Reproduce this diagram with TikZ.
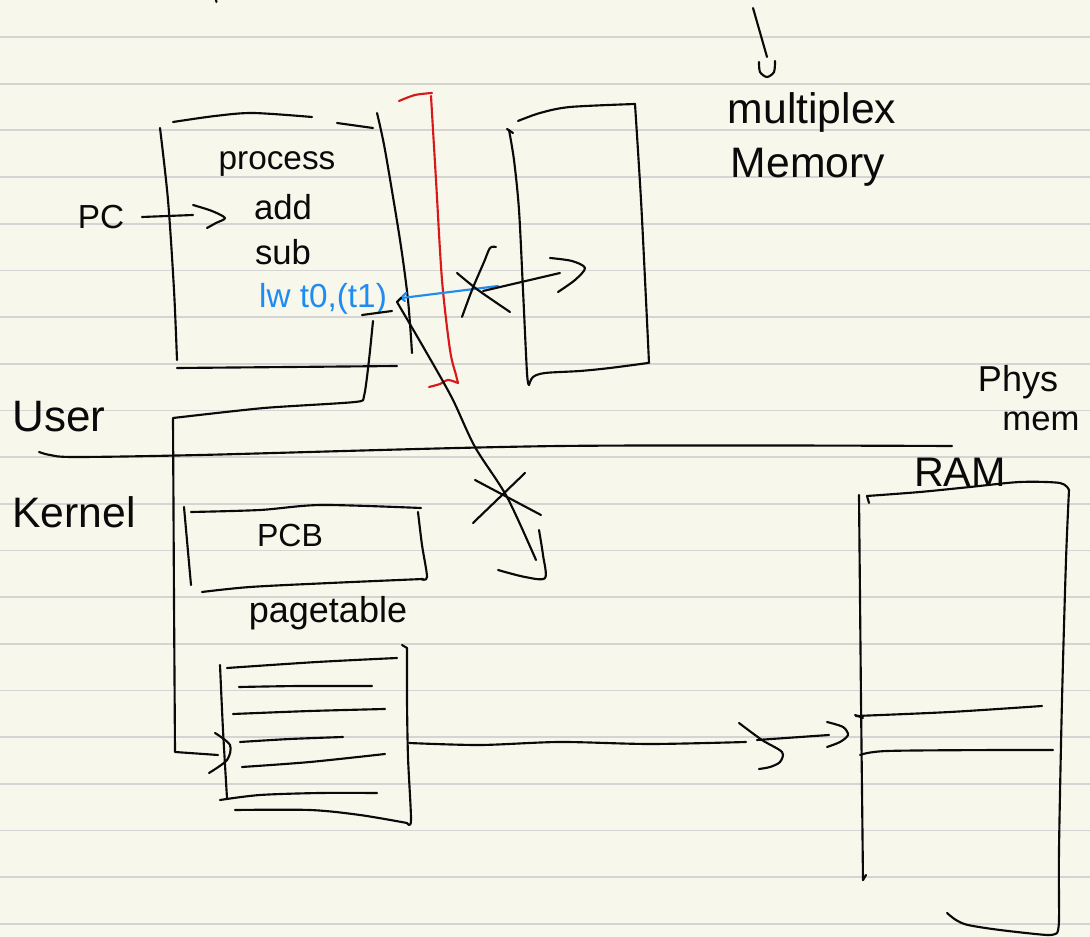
\documentclass[tikz,border=0pt]{standalone}
\usepackage{fontspec}
\setmainfont{Liberation Sans}
\definecolor{paper}{RGB}{248,247,235}
\definecolor{ruleline}{RGB}{212,212,210}
\definecolor{ink}{RGB}{10,10,10}
\definecolor{redink}{RGB}{215,25,25}
\definecolor{blueink}{RGB}{30,140,240}
\newcommand{\fs}[1]{\fontsize{#1}{#1}\selectfont}
\begin{document}
\begin{tikzpicture}[x=0.75pt,y=-0.75pt,
  pen/.style={line width=1.6pt,line cap=round,line join=round,draw=ink},
  redpen/.style={pen,draw=redink},
  bluepen/.style={pen,draw=blueink},
  lbl/.style={inner sep=0pt,anchor=base,text=ink},
  bluelbl/.style={lbl,text=blueink},
  rulestyle/.style={line width=1.3pt,draw=ruleline}]
\useasboundingbox (0,0) rectangle (1090,937);
\fill[paper] (0,0) rectangle (1090,937);
\foreach \k in {0,...,19} \draw[rulestyle] (0,{37+46.68*\k}) -- (1090,{37+46.68*\k});

% ---------- labels ----------
\node[lbl,font=\fs{25}] (pc) at (101,229) {PC};
\node[lbl,font=\fs{25}] (process) at (277,170) {process};
\node[lbl,font=\fs{26}] (add) at (283,220) {add};
\node[lbl,font=\fs{26}] (sub) at (283,265) {sub};
\node[bluelbl,font=\fs{25}] (lw) at (323,308) {lw t0,(t1)};
\node[lbl,font=\fs{32}] (multiplex) at (812,124) {multiplex};
\node[lbl,font=\fs{32}] (memory) at (808,178) {Memory};
\node[lbl,font=\fs{33}] (user) at (59,432) {User};
\node[lbl,font=\fs{32}] (kernel) at (74,528) {Kernel};
\node[lbl,font=\fs{24}] (pcb) at (290,547) {PCB};
\node[lbl,font=\fs{27}] (pagetable) at (328,623) {pagetable};
\node[lbl,font=\fs{27}] (phys) at (1018,392) {Phys};
\node[lbl,font=\fs{26}] (mem) at (1041,431) {mem};
\node[lbl,font=\fs{31}] (ram) at (960,487) {RAM};

% ---------- top marks ----------
\draw[pen] (216,0) -- (216.5,2);
\draw[pen] (753,8) -- (767,57);
\draw[pen] plot[smooth] coordinates {(759,62) (760,72) (767,77) (774,72) (775,61)};

% ---------- process box ----------
\draw[pen] plot[smooth] coordinates {(160,128) (168,200) (174,290) (177,360)};
\draw[pen] plot[smooth] coordinates {(173,122) (215,116) (253,113) (312,117)};
\draw[pen] (337,123) -- (373,128);
\draw[pen] plot[smooth] coordinates {(377,113) (385,150) (400,240) (408,300) (412,353)};
\draw[pen] plot[smooth] coordinates {(177,368) (290,367) (397,366)};

% PC arrow
\coordinate (pcs) at (142,217);
\coordinate (pce) at (193,215);
\draw[pen] (pcs) -- (pce);
\draw[pen] plot[smooth] coordinates {(193,205) (212,211) (225,218) (216,223) (207,228)};

% red bracket
\draw[redpen] plot[smooth] coordinates {(399,101) (415,95) (432,93)};
\draw[redpen] plot[smooth] coordinates {(431,96) (436,180) (442,280) (450,350) (456,375) (458,383)};
\draw[redpen] plot[smooth] coordinates {(458,383) (448,380) (440,384) (429,387)};

% right box
\draw[pen] (507,129) -- (513,133);
\draw[pen] plot[smooth] coordinates {(509,130) (514,160) (519,210) (523,290) (527,373) (529,385)};
\draw[pen] plot[smooth] coordinates {(518,121) (540,113) (570,107) (635,104)};
\draw[pen] plot[smooth] coordinates {(635,104) (641,200) (646,300) (649,363)};
\draw[pen] plot[smooth] coordinates {(529,385) (533,377) (545,373) (580,371) (610,368) (648,363)};

% blue + black arrow (crossed out)
\coordinate (bls) at (402,298);
\coordinate (ble) at (498,286);
\draw[bluepen] (bls) -- (ble);
\draw[bluepen] (406,293) -- (401,298) -- (405,301);
\coordinate (bks) at (483,291);
\coordinate (bke) at (560,273);
\draw[pen] (bks) -- (bke);
\draw[pen] plot[smooth] coordinates {(550,258) (572,261) (585,268) (575,280) (558,292)};
\draw[pen] plot[smooth] coordinates {(462,317) (472,290) (484,262) (490,248) (496,247)};
\draw[pen] plot[smooth] coordinates {(457,273) (478,290) (510,312)};

% long arrow down (crossed out)
\draw[pen] plot[smooth] coordinates {(397,302) (425,350) (452,398) (475,447) (507,497) (536,560)};
\draw[pen] (397,302) -- (401,298);
\draw[pen] plot[smooth] coordinates {(539,530) (543,555) (545,578) (525,577) (498,570)};
\draw[pen] (475,480) -- (541,515);
\draw[pen] (473,523) -- (525,473);

% underline + connector to page table
\draw[pen] (362,315) -- (392,311);
\draw[pen] plot[smooth,tension=0.4] coordinates {(373,321) (369,360) (364,396) (355,402) (264,408) (173,418)}
  -- (174,600) -- (175,752) -- (218,755);
\draw[pen] plot[smooth] coordinates {(215,733) (230,745) (227,760) (209,773)};

% user / kernel divider
\draw[pen] plot[smooth] coordinates {(39,452) (50,455) (75,457) (200,455) (560,446) (952,446)};

% PCB box
\draw[pen] (184,507) -- (191,585);
\draw[pen] plot[smooth] coordinates {(191,512) (260,510) (321,505) (421,508)};
\draw[pen] plot[smooth] coordinates {(418,512) (422,545) (427,577) (421,579)};
\draw[pen] plot[smooth] coordinates {(202,592) (250,587) (330,583) (423,579)};

% page table
\draw[pen] plot[smooth] coordinates {(220,665) (223,730) (227,798)};
\draw[pen] plot[smooth] coordinates {(227,668) (317,662) (397,658)};
\draw[pen] (402,645) -- (407,648);
\draw[pen] plot[smooth] coordinates {(407,648) (407,700) (408,757) (411,820) (407,823)};
\draw[pen] plot[smooth] coordinates {(235,810) (310,810) (360,815) (407,823)};
\draw[pen] plot[smooth] coordinates {(239,687) (300,686) (372,686)};
\draw[pen] plot[smooth] coordinates {(233,714) (310,711) (385,709)};
\draw[pen] plot[smooth] coordinates {(240,742) (290,739) (343,737)};
\draw[pen] plot[smooth] coordinates {(242,767) (310,762) (385,754)};
\draw[pen] plot[smooth] coordinates {(220,800) (260,795) (320,793) (377,793)};

% page table -> RAM
\coordinate (pts) at (409,743);
\coordinate (ptm) at (746,742);
\draw[pen] plot[smooth] coordinates {(409,743) (480,745) (560,742) (650,744) (746,742)};
\draw[pen] plot[smooth] coordinates {(739,723) (762,740) (782,752) (780,762) (770,767) (759,769)};
\draw[pen] (757,740) -- (829,735);
\draw[pen] plot[smooth] coordinates {(827,722) (843,727) (848,735) (840,742) (827,747)};

% RAM box
\draw[pen] (859,495) -- (861,700) -- (863,880);
\draw[pen] (863,880) -- (866,875);
\draw[pen] (867,496) -- (869,503);
\draw[pen] plot[smooth] coordinates {(867,496) (920,492) (970,487) (1020,482) (1060,483) (1069,490)};
\draw[pen] plot[smooth] coordinates {(1069,490) (1066,560) (1062,700) (1059,850) (1059,920) (1057,933)};
\draw[pen] plot[smooth] coordinates {(1057,933) (1047,935) (1000,930) (968,925) (956,920) (947,913)};
\draw[pen] plot[smooth] coordinates {(856,716) (950,712) (1042,706)};
\draw[pen] (855,715) -- (863,718);
\draw[pen] plot[smooth] coordinates {(860,755) (887,751) (1000,750) (1053,750)};
\end{tikzpicture}
\end{document}
